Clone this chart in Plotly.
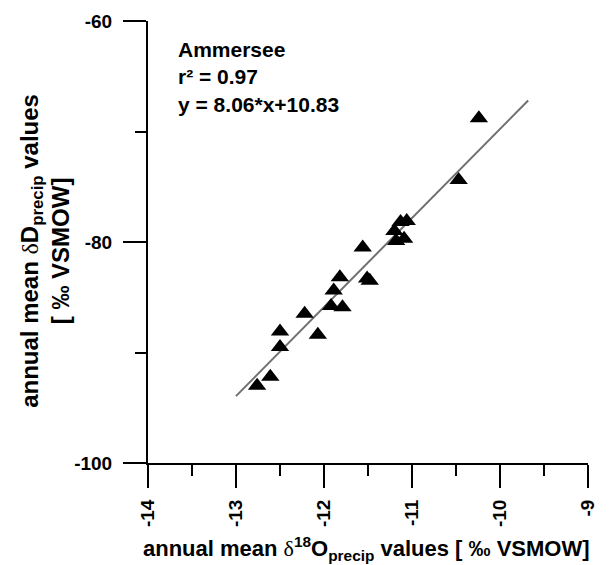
import plotly.graph_objects as go

# Annual mean isotope values of precipitation, Ammersee station
d18o = [-10.24, -10.47, -11.13, -11.06, -11.20, -11.09, -11.18, -11.56,
        -11.51, -11.48, -11.82, -11.89, -11.92, -11.79, -12.22, -12.07,
        -12.50, -12.50, -12.61, -12.76]
dD = [-68.8, -74.4, -78.2, -78.1, -79.0, -79.7, -79.9, -80.5,
      -83.3, -83.5, -83.2, -84.4, -85.8, -85.9, -86.5, -88.4,
      -88.1, -89.5, -92.2, -93.0]

# Regression line y = slope*x + intercept, drawn over this x span
slope = 8.06
intercept = 10.83
r2 = 0.97
fit_x = [-13.0, -9.68]
fit_y = [slope * v + intercept for v in fit_x]

x_ticks = [-14, -13, -12, -11, -10, -9]
y_ticks = [-100, -80, -60]

FONT = "Liberation Sans, Arial, sans-serif"
DELTA = '<span style="font-family:Liberation Serif, serif;font-weight:normal">δ</span>'

fig = go.Figure()
fig.add_trace(go.Scatter(
    x=fit_x, y=fit_y, mode="lines",
    line=dict(color="#707070", width=2), hoverinfo="skip", showlegend=False))
fig.add_trace(go.Scatter(
    x=d18o, y=dD, mode="markers",
    marker=dict(symbol="triangle-up", size=16, color="black"),
    showlegend=False))

axis_common = dict(
    showline=True, linecolor="black", linewidth=2, mirror=False,
    showgrid=False, zeroline=False,
    ticks="outside", ticklen=23, tickwidth=2, tickcolor="black",
    tickfont=dict(family=FONT, size=19, color="black", weight="bold"),
)

fig.update_xaxes(
    range=[-14, -9], tickvals=x_ticks, ticktext=[str(v) for v in x_ticks],
    tickangle=-90, ticklabelstandoff=4,
    minor=dict(dtick=0.5, ticks="outside", ticklen=11, tickwidth=2, tickcolor="black"),
    **axis_common)
fig.update_yaxes(
    range=[-100, -60], tickvals=y_ticks, ticktext=[str(v) for v in y_ticks],
    ticklabelstandoff=7,
    minor=dict(dtick=10, ticks="outside", ticklen=11, tickwidth=2, tickcolor="black"),
    **axis_common)

fig.add_annotation(
    text=f"annual mean {DELTA}<sup>18</sup>O<sub>precip</sub> values [ ‰ VSMOW]",
    xref="paper", yref="paper", x=0.497, y=-0.193,
    xanchor="center", yanchor="middle", showarrow=False,
    font=dict(family=FONT, size=22, color="black", weight="bold"))
fig.add_annotation(
    text=f"annual mean {DELTA}D<sub>precip</sub> values<br>[ ‰ VSMOW]",
    xref="paper", yref="paper", x=0, y=0.48, xshift=-103,
    xanchor="center", yanchor="middle", textangle=-90, showarrow=False,
    font=dict(family=FONT, size=24, color="black", weight="bold"))

fig.add_annotation(
    text=f"Ammersee<br>r² = {r2:.2f}<br>y = {slope:.2f}*x+{intercept:.2f}",
    xref="paper", yref="paper", x=0.064, y=0.965,
    xanchor="left", yanchor="top", align="left", showarrow=False,
    font=dict(family=FONT, size=21, color="black", weight="bold"))

fig.update_layout(
    width=609, height=565,
    margin=dict(l=148, r=11, t=15, b=102),
    paper_bgcolor="white", plot_bgcolor="white",
)

fig.write_html("out.html")
